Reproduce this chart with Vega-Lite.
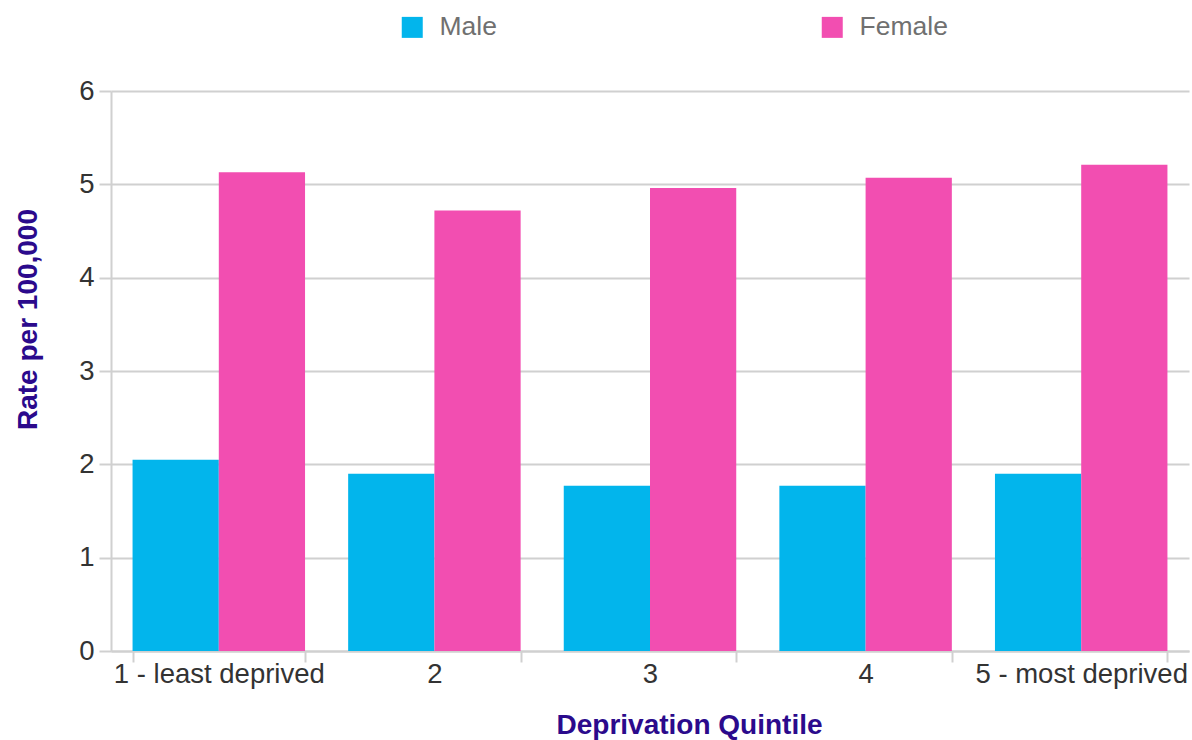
{
  "$schema": "https://vega.github.io/schema/vega-lite/v6.json",
  "autosize": {"type": "none"},
  "width": 1078,
  "height": 560,
  "padding": {"left": 111, "top": 91, "right": 3, "bottom": 89},
  "background": "white",
  "config": {
    "font": "Liberation Sans",
    "view": {"stroke": null}
  },
  "data": {
    "values": [
      {"quintile": "1 - least deprived", "sex": "Male", "rate": 2.05},
      {"quintile": "1 - least deprived", "sex": "Female", "rate": 5.13},
      {"quintile": "2", "sex": "Male", "rate": 1.9},
      {"quintile": "2", "sex": "Female", "rate": 4.72},
      {"quintile": "3", "sex": "Male", "rate": 1.77},
      {"quintile": "3", "sex": "Female", "rate": 4.96},
      {"quintile": "4", "sex": "Male", "rate": 1.77},
      {"quintile": "4", "sex": "Female", "rate": 5.07},
      {"quintile": "5 - most deprived", "sex": "Male", "rate": 1.9},
      {"quintile": "5 - most deprived", "sex": "Female", "rate": 5.21}
    ]
  },
  "mark": {"type": "bar"},
  "encoding": {
    "x": {
      "field": "quintile",
      "type": "nominal",
      "sort": null,
      "scale": {"paddingInner": 0.2, "paddingOuter": 0.1},
      "axis": {
        "title": "Deprivation Quintile",
        "titleFont": "Liberation Sans",
        "titleFontSize": 28,
        "titleFontWeight": "bold",
        "titleColor": "#2B0A8C",
        "titleX": 578,
        "titleY": 82,
        "titleAlign": "center",
        "titleBaseline": "alphabetic",
        "labelAngle": 0,
        "labelFontSize": 27.5,
        "labelColor": "#333333",
        "labelPadding": -2,
        "labelLimit": 0,
        "labelOverlap": false,
        "bandPosition": 0,
        "tickBand": "extent",
        "tickSize": 11,
        "tickWidth": 2,
        "tickColor": "#d0d0d0",
        "domainColor": "#d0d0d0",
        "domainWidth": 2,
        "grid": false
      }
    },
    "xOffset": {"field": "sex", "type": "nominal", "sort": ["Male", "Female"], "scale": {"paddingInner": 0, "paddingOuter": 0}},
    "y": {
      "field": "rate",
      "type": "quantitative",
      "scale": {"domain": [0, 6], "nice": false},
      "axis": {
        "title": "Rate per 100,000",
        "titleFont": "Liberation Sans",
        "titleFontSize": 28,
        "titleFontWeight": "bold",
        "titleColor": "#2B0A8C",
        "titleX": -83,
        "titleY": 228,
        "titleAlign": "center",
        "titleBaseline": "middle",
        "values": [0, 1, 2, 3, 4, 5, 6],
        "labelOverlap": false,
        "labelFontSize": 27.5,
        "labelColor": "#333333",
        "labelPadding": 5,
        "tickSize": 12,
        "tickWidth": 2,
        "tickColor": "#d0d0d0",
        "domainColor": "#d0d0d0",
        "domainWidth": 2,
        "gridColor": "#d0d0d0",
        "gridWidth": 2
      }
    },
    "color": {
      "field": "sex",
      "type": "nominal",
      "sort": ["Male", "Female"],
      "scale": {"domain": ["Male", "Female"], "range": ["#02B5EC", "#F24EB1"]},
      "legend": {
        "title": null,
        "orient": "none",
        "legendX": 288,
        "legendY": -77,
        "direction": "horizontal",
        "symbolType": "square",
        "symbolSize": 441,
        "symbolStrokeWidth": 0,
        "symbolOpacity": 1,
        "labelFontSize": 26.5,
        "labelColor": "#707070",
        "labelOffset": 14,
        "columnPadding": 322
      }
    }
  }
}
